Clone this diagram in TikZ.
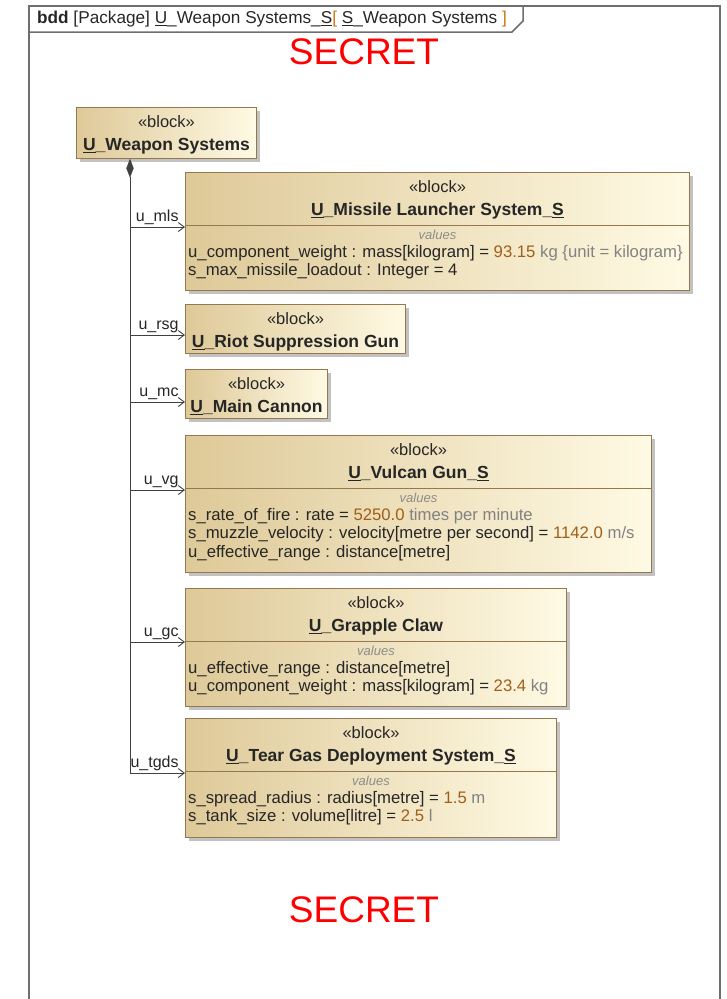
\documentclass[tikz,border=0pt]{standalone}
\usepackage{fontspec}
\setmainfont{Liberation Sans}
\usepackage{xcolor}
\usetikzlibrary{shapes.geometric, arrows.meta, positioning, calc, shadows}

\definecolor{blktan}{RGB}{222,201,152}
\definecolor{blkcream}{RGB}{255,250,228}
\definecolor{blkedge}{RGB}{150,120,80}
\definecolor{valnum}{RGB}{160,95,25}
\definecolor{valunit}{RGB}{130,130,130}
\definecolor{frmgrey}{RGB}{110,110,110}
\definecolor{brk}{RGB}{200,120,20}

\newcommand{\stereo}{«block»}
\newcommand{\blkname}[1]{{\fontsize{17.5}{23}\selectfont\bfseries #1}}
\newcommand{\vnum}[1]{\textcolor{valnum}{#1}}
\newcommand{\vunit}[1]{\textcolor{valunit}{#1}}

\tikzstyle{block} = [rectangle, anchor=north west, draw=blkedge, line width=1pt, left color=blktan, right color=blkcream, drop shadow={shadow xshift=3pt, shadow yshift=-3pt, fill=black!40, opacity=0.6}, inner sep=0pt]
\tikzstyle{blkhead} = [anchor=north, align=center, inner sep=0pt, font=\fontsize{16.5}{23}\selectfont, text=black!85]
\tikzstyle{divider} = [draw=blkedge, line width=1pt]
\tikzstyle{vallabel} = [anchor=north, inner sep=0pt, font=\fontsize{13}{15}\selectfont\itshape, text=black!45]
\tikzstyle{valtext} = [anchor=north west, align=left, inner sep=0pt, font=\fontsize{16.7}{18.5}\selectfont, text=black!85]
\tikzstyle{assoc} = [line width=0.9pt, draw=black!75, -{Straight Barb[length=6pt,width=9pt]}]
\tikzstyle{lbl} = [anchor=south east, inner sep=2pt, xshift=-4pt, font=\fontsize{16}{18}\selectfont, text=black!85]
\tikzstyle{frameline} = [draw=frmgrey, line width=1.5pt]
\tikzstyle{secret} = [text=red, font=\fontsize{37}{40}\selectfont]

\begin{document}
\begin{tikzpicture}[x=1pt, y=-1pt]
  \useasboundingbox (0,0) rectangle (726,999);

  % Frame
  \draw[frameline] (29,1010) -- (29,6) -- (720,6) -- (720,1010);
  \draw[frameline] (29,32) -- (512,32) -- (523,21) -- (523,6);
  \node[anchor=west, inner sep=0pt, font=\fontsize{17.2}{19}\selectfont, text=black!85] (hdr) at (37,19) {
    \textbf{bdd} [Package] \underline{U}\_Weapon Systems\_\underline{S}\textcolor{brk}{[} \underline{S}\_Weapon Systems \textcolor{brk}{]}
  };

  % Markings
  \node[secret] (sectop) at (364,52) {SECRET};
  \node[secret] (secbot) at (364,910) {SECRET};

  % U_Weapon Systems
  \node[block, minimum width=180pt, minimum height=51pt] (ws) at (76,107) {};
  \node[blkhead] (wsname) at ([yshift=-8.5pt]ws.north) {\stereo\\\blkname{\underline{U}\_Weapon Systems}};

  % U_Missile Launcher System_S
  \node[block, minimum width=504pt, minimum height=118pt] (mls) at (185,172) {};
  \node[blkhead] (mlsname) at ([yshift=-8.5pt]mls.north) {\stereo\\\blkname{\underline{U}\_Missile Launcher System\_\underline{S}}};
  \draw[divider] ([yshift=-53pt]mls.north west) -- ([yshift=-53pt]mls.north east);
  \node[vallabel] (mlsval) at ([yshift=-58pt]mls.north) {values};
  \node[valtext] (mlsattr) at ([xshift=3pt, yshift=-73pt]mls.north west) {
    u\_component\_weight : mass[kilogram] = \vnum{93.15} \vunit{kg \{unit = kilogram\}}\\
    s\_max\_missile\_loadout : Integer = 4
  };

  % U_Riot Suppression Gun
  \node[block, minimum width=220pt, minimum height=49pt] (rsg) at (185,304) {};
  \node[blkhead] (rsgname) at ([yshift=-8.5pt]rsg.north) {\stereo\\\blkname{\underline{U}\_Riot Suppression Gun}};

  % U_Main Cannon
  \node[block, minimum width=142pt, minimum height=49pt] (mc) at (185,369) {};
  \node[blkhead] (mcname) at ([yshift=-8.5pt]mc.north) {\stereo\\\blkname{\underline{U}\_Main Cannon}};

  % U_Vulcan Gun_S
  \node[block, minimum width=466pt, minimum height=137pt] (vg) at (185,435) {};
  \node[blkhead] (vgname) at ([yshift=-8.5pt]vg.north) {\stereo\\\blkname{\underline{U}\_Vulcan Gun\_\underline{S}}};
  \draw[divider] ([yshift=-53pt]vg.north west) -- ([yshift=-53pt]vg.north east);
  \node[vallabel] (vgval) at ([yshift=-58pt]vg.north) {values};
  \node[valtext] (vgattr) at ([xshift=3pt, yshift=-73pt]vg.north west) {
    s\_rate\_of\_fire : rate = \vnum{5250.0} \vunit{times per minute}\\
    s\_muzzle\_velocity : velocity[metre per second] = \vnum{1142.0} \vunit{m/s}\\
    u\_effective\_range : distance[metre]
  };

  % U_Grapple Claw
  \node[block, minimum width=381pt, minimum height=118pt] (gc) at (185,588) {};
  \node[blkhead] (gcname) at ([yshift=-8.5pt]gc.north) {\stereo\\\blkname{\underline{U}\_Grapple Claw}};
  \draw[divider] ([yshift=-53pt]gc.north west) -- ([yshift=-53pt]gc.north east);
  \node[vallabel] (gcval) at ([yshift=-58pt]gc.north) {values};
  \node[valtext] (gcattr) at ([xshift=3pt, yshift=-73pt]gc.north west) {
    u\_effective\_range : distance[metre]\\
    u\_component\_weight : mass[kilogram] = \vnum{23.4} \vunit{kg}
  };

  % U_Tear Gas Deployment System_S
  \node[block, minimum width=371pt, minimum height=119pt] (tgds) at (185,718) {};
  \node[blkhead] (tgdsname) at ([yshift=-8.5pt]tgds.north) {\stereo\\\blkname{\underline{U}\_Tear Gas Deployment System\_\underline{S}}};
  \draw[divider] ([yshift=-53pt]tgds.north west) -- ([yshift=-53pt]tgds.north east);
  \node[vallabel] (tgdsval) at ([yshift=-58pt]tgds.north) {values};
  \node[valtext] (tgdsattr) at ([xshift=3pt, yshift=-73pt]tgds.north west) {
    s\_spread\_radius : radius[metre] = \vnum{1.5} \vunit{m}\\
    s\_tank\_size : volume[litre] = \vnum{2.5} \vunit{l}
  };

  % Composition
  \coordinate (trunk) at ([xshift=54pt]ws.south west);
  \node[diamond, fill=black!75, draw=black!75, minimum width=7pt, minimum height=18pt, inner sep=0pt, anchor=north] (comp) at (trunk) {};
  \draw[assoc] (comp.south) |- ([yshift=-55pt]mls.north west) node[lbl] {u\_mls};
  \draw[assoc] (comp.south) |- ([yshift=-31pt]rsg.north west) node[lbl] {u\_rsg};
  \draw[assoc] (comp.south) |- ([yshift=-33pt]mc.north west) node[lbl] {u\_mc};
  \draw[assoc] (comp.south) |- ([yshift=-55pt]vg.north west) node[lbl] {u\_vg};
  \draw[assoc] (comp.south) |- ([yshift=-54pt]gc.north west) node[lbl] {u\_gc};
  \draw[assoc] (comp.south) |- ([yshift=-55pt]tgds.north west) node[lbl] {u\_tgds};
\end{tikzpicture}
\end{document}
